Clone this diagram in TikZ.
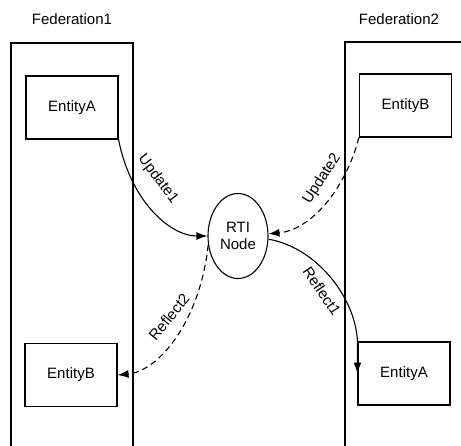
\documentclass[tikz,border=0pt]{standalone}
\usepackage{fontspec}
\setmainfont{Liberation Sans}
\usetikzlibrary{arrows.meta,shapes.geometric}
\begin{document}
\begin{tikzpicture}[x=1pt,y=-1pt,
  font=\fontsize{15}{16.5}\selectfont,
  frame/.style={draw=black,line width=1.1pt},
  entity/.style={draw=black,line width=1.1pt,minimum width=92pt,minimum height=63pt,inner sep=0pt},
  rti/.style={draw=black,line width=1.1pt,ellipse,minimum width=60pt,minimum height=85pt,inner sep=0pt,align=center},
  flow/.style={line width=1.1pt,-{Latex[length=11pt,width=8pt]}},
  dflow/.style={flow,dash pattern=on 6pt off 4pt},
  lbl/.style={inner sep=0pt}]
\useasboundingbox (0,0) rectangle (461,445);
% federation frames
\coordinate (f1bl) at (11,446);
\coordinate (f1tl) at (11,43);
\coordinate (f1tr) at (133,43);
\coordinate (f1br) at (133,446);
\draw[frame] (f1bl) -- (f1tl) -- (f1tr) -- (f1br);
\coordinate (f2bl) at (345,446);
\coordinate (f2tl) at (345,42);
\coordinate (f2tr) at (462,42);
\draw[frame] (f2bl) -- (f2tl) -- (f2tr);
\node[lbl] (fed1) at (72,19) {Federation1};
\node[lbl] (fed2) at (399,19) {Federation2};
% entities
\node[entity] (ea1) at (72,107.5) {EntityA};
\node[entity] (eb2) at (405.5,105.5) {EntityB};
\node[entity] (eb1) at (71,375) {EntityB};
\node[entity] (ea2) at (404,373.5) {EntityA};
% RTI
\node[rti] (rti) at (238,236) {RTI\\Node};
% connectors
\draw[flow] (ea1.south east) .. controls +(12,61) and +(-38,0) .. (rti.west);
\draw[dflow] (eb2.south west) .. controls +(-14,53) and +(42,-4) .. (rti.4);
\draw[flow] (rti.-6) .. controls +(47,8) and +(-2,-45) .. (ea2.north west) -- (ea2.west);
\draw[dflow] (rti.-163) .. controls +(-8,75) and +(42,-4) .. (eb1.east);
% labels
\node[lbl,rotate=-53] (u1) at (158,179) {Update1};
\node[lbl,rotate=57] (u2) at (322,179) {Update2};
\node[lbl,rotate=-56] (r1) at (322,291) {Reflect1};
\node[lbl,rotate=51] (r2) at (169,317) {Reflect2};
\end{tikzpicture}
\end{document}
